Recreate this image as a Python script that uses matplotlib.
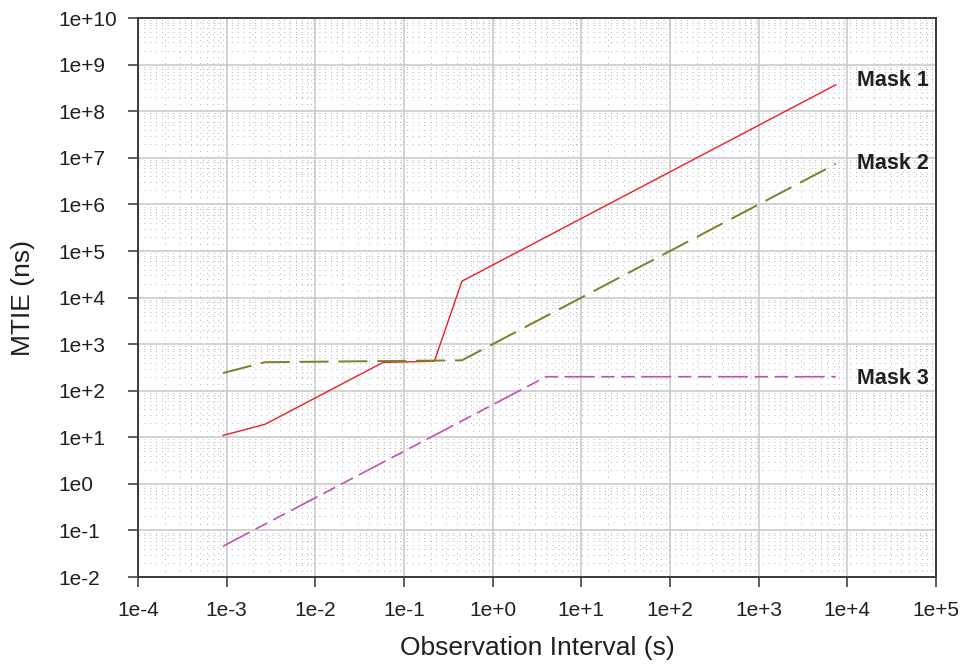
import matplotlib
matplotlib.use("Agg")
import matplotlib.pyplot as plt
from matplotlib.ticker import LogLocator, FixedLocator, NullFormatter

plt.rcParams['font.family'] = ['Liberation Sans', 'DejaVu Sans']

# MTIE masks (tau in s, MTIE in ns)
mask1_tau = [0.00091, 0.0027, 0.058, 0.22, 0.45, 7400]
mask1_mtie = [11, 19, 406, 430, 22500, 3.7e8]
mask2_tau = [0.00091, 0.0027, 0.45, 7400]
mask2_mtie = [240, 410, 450, 7.4e6]
mask3_tau = [0.00091, 4, 7400]
mask3_mtie = [0.046, 200, 200]

labels = ["Mask 1", "Mask 2", "Mask 3"]
label_y = [4.6e8, 7.6e6, 186]
label_x = 13000

xticks = [1e-4, 1e-3, 1e-2, 1e-1, 1e0, 1e1, 1e2, 1e3, 1e4, 1e5]
xlabels = ["1e-4", "1e-3", "1e-2", "1e-1", "1e+0", "1e+1", "1e+2", "1e+3", "1e+4", "1e+5"]
yticks = [1e-2, 1e-1, 1e0, 1e1, 1e2, 1e3, 1e4, 1e5, 1e6, 1e7, 1e8, 1e9, 1e10]
ylabels = ["1e-2", "1e-1", "1e0", "1e+1", "1e+2", "1e+3", "1e+4", "1e+5",
           "1e+6", "1e+7", "1e+8", "1e+9", "1e+10"]

txt = '#231f20'
fig = plt.figure(figsize=(9.63, 6.71), dpi=100)
ax = fig.add_axes([0.1433, 0.140, 0.8287, 0.833])
ax.set_xscale('log')
ax.set_yscale('log')
ax.set_xlim(1e-4, 1e5)
ax.set_ylim(1e-2, 1e10)

# grids
ax.xaxis.set_minor_locator(LogLocator(base=10, subs=range(2, 10), numticks=100))
ax.yaxis.set_minor_locator(LogLocator(base=10, subs=range(2, 10), numticks=100))
ax.xaxis.set_minor_formatter(NullFormatter())
ax.yaxis.set_minor_formatter(NullFormatter())
ax.grid(which='minor', color='#b4b4b4', linestyle=(0, (1, 5)), linewidth=0.7)
ax.grid(which='major', color='#c8c8c8', linestyle='-', linewidth=1.1)
ax.set_axisbelow(True)

ax.plot(mask1_tau, mask1_mtie, color='#ee1c25', lw=1.0, zorder=3)
l2, = ax.plot(mask2_tau, mask2_mtie, color='#7f7f2a', lw=1.4, zorder=3)
l2.set_dashes([15, 5])
l3, = ax.plot(mask3_tau, mask3_mtie, color='#c052b4', lw=1.2, zorder=3)
l3.set_dashes([18, 4, 8, 4, 8, 4])

for lab, yv in zip(labels, label_y):
    ax.text(label_x, yv, lab, ha='left', va='center', fontsize=15.5,
            fontweight='bold', color=txt)

ax.xaxis.set_major_locator(FixedLocator(xticks))
ax.yaxis.set_major_locator(FixedLocator(yticks))
ax.set_xticklabels(xlabels)
ax.set_yticklabels(ylabels, ha='left')
ax.tick_params(which='major', direction='out', length=7, width=1.1, color='#333333',
               labelsize=15, labelcolor=txt)
ax.tick_params(axis='y', pad=50)
ax.tick_params(axis='x', pad=10)
ax.tick_params(which='minor', length=0)
for s in ax.spines.values():
    s.set_color('#3a3a3a')
    s.set_linewidth(1.4)

ax.set_xlabel("Observation Interval (s)", fontsize=19, color=txt, labelpad=12)
ax.set_ylabel("MTIE (ns)", fontsize=19, color=txt, labelpad=17)

fig.savefig("out.png", dpi=100)
